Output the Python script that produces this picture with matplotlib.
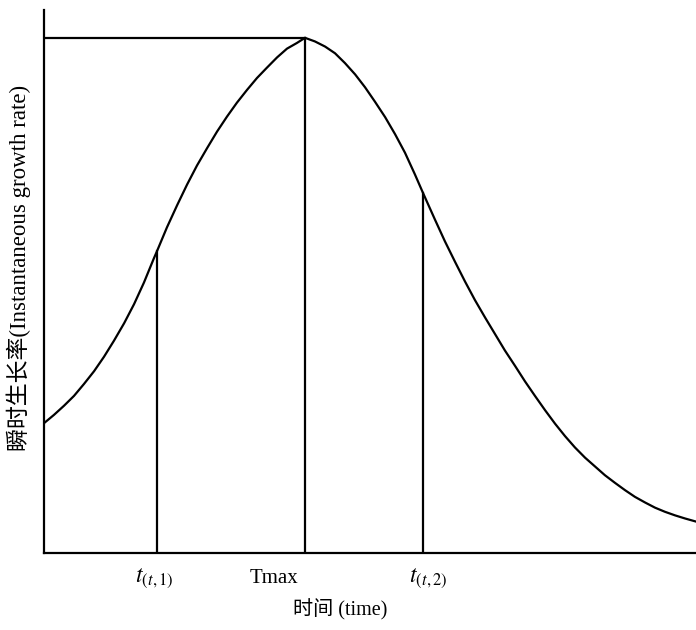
import matplotlib
matplotlib.use("Agg")
import matplotlib.pyplot as plt

# ---- data (time units: Tmax = 10, rate: peak = 100) ----
time_pts = [0.00, 0.38, 0.77, 1.15, 1.53, 1.92, 2.30, 2.68, 3.07, 3.45, 3.83, 4.21,
            4.33, 4.71, 5.10, 5.48, 5.86, 6.25, 6.63, 7.01, 7.39, 7.78, 8.16, 8.54,
            8.93, 9.31, 9.69, 10.00,
            10.38, 10.77, 11.15, 11.53, 11.92, 12.30, 12.68, 13.07, 13.45, 13.83,
            14.21, 14.52, 14.98, 15.36, 15.75, 16.13, 16.51, 16.90, 17.28, 17.66,
            18.05, 18.43, 18.81, 19.20, 19.58, 19.96, 20.34, 20.73, 21.11, 21.49,
            21.88, 22.26, 22.64, 23.03, 23.41, 23.79, 24.18, 24.56, 24.98]
rate_pts = [25.2, 26.8, 28.6, 30.5, 32.8, 35.3, 38.1, 41.2, 44.6, 48.3, 52.5, 57.2,
            58.6, 63.2, 67.5, 71.5, 75.2, 78.6, 81.8, 84.7, 87.4, 89.9, 92.2, 94.2,
            96.2, 97.9, 99.0, 100.0,
            99.3, 98.3, 97.0, 95.1, 92.9, 90.4, 87.6, 84.6, 81.3, 77.7,
            73.5, 69.9, 64.7, 60.5, 56.5, 52.7, 49.1, 45.7, 42.5, 39.3,
            36.3, 33.3, 30.5, 27.7, 25.1, 22.7, 20.5, 18.5, 16.8, 15.1,
            13.6, 12.2, 10.9, 9.8, 8.8, 8.0, 7.3, 6.7, 6.1]

marker_times = [4.33, 10.0, 14.52]
marker_rates = [58.6, 100.0, 69.9]
marker_labels = [r'$\mathbf{\mathit{t}}_{(t,1)}$', 'Tmax', r'$\mathbf{\mathit{t}}_{(t,2)}$']

x_label = '时间 (time)'
y_label = '瞬时生长率(Instantaneous growth rate)'

plt.rcParams['mathtext.fontset'] = 'stix'
fam = ['Liberation Serif', 'Noto Sans CJK SC']

fig = plt.figure(figsize=(6.96, 6.30), dpi=100)
ax = fig.add_axes([44 / 696, 1 - 553 / 630, 1 - 44 / 696, (553 - 10) / 630])
ax.set_xlim(0, 24.98)
ax.set_ylim(0, 105.4)

lw = 1.6
ax.plot(time_pts, rate_pts, color='black', lw=lw, solid_joinstyle='round')
for t, r in zip(marker_times, marker_rates):
    ax.plot([t, t], [0, r], color='black', lw=lw)
# horizontal line at peak
ax.plot([0, marker_times[1]], [marker_rates[1], marker_rates[1]], color='black', lw=lw)

for s in ['top', 'right']:
    ax.spines[s].set_visible(False)
for s in ['left', 'bottom']:
    ax.spines[s].set_linewidth(lw)
    ax.spines[s].set_color('black')
ax.set_xticks([])
ax.set_yticks([])

# tick-like labels
offsets = [-0.1, -1.2, 0.2]
for t, lab, off in zip(marker_times, marker_labels, offsets):
    fs = 17 if lab.startswith('$') else 15
    ax.text(t + off, -4.9, lab, ha='center', va='center', fontsize=fs,
            family=fam, transform=ax.transData, clip_on=False)

fig.text(340 / 696, 1 - 610 / 630, x_label, ha='center', va='center',
         fontsize=14.5, family=fam)
fig.text(19 / 696, 1 - 268 / 630, y_label, ha='center', va='center',
         fontsize=16.5, family=fam, rotation=90)

fig.savefig('out.png', dpi=100)
